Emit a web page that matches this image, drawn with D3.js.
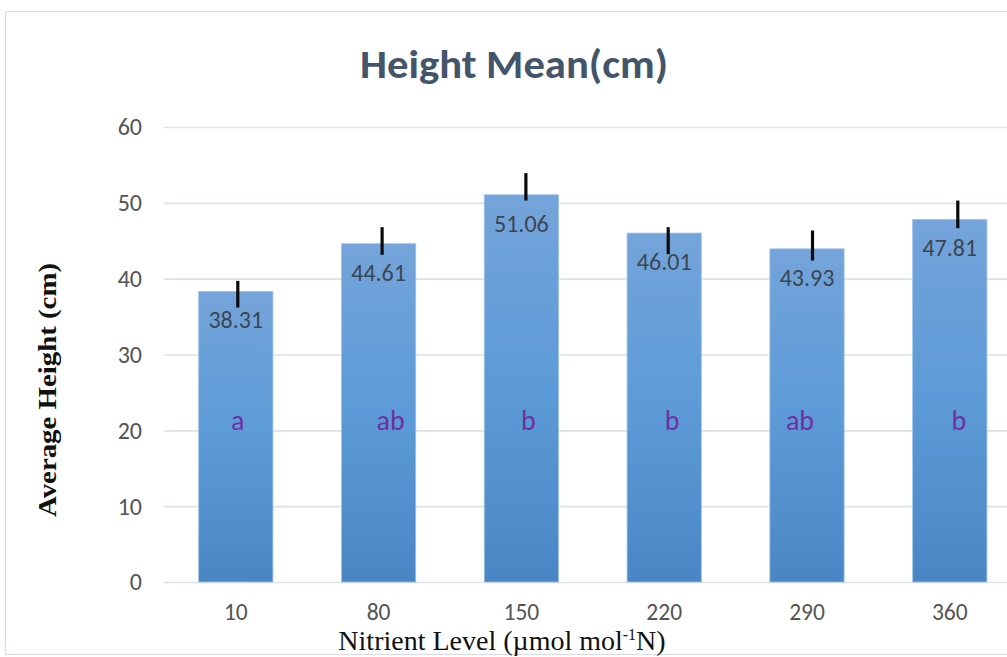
<!DOCTYPE html>
<html>
<head>
<meta charset="utf-8">
<script src="https://cdn.jsdelivr.net/npm/d3@7/dist/d3.min.js"></script>
<style>
  html, body { margin: 0; padding: 0; background: #fff; }
  svg { display: block; }
</style>
</head>
<body>
<svg id="chart" width="1007" height="657"></svg>
<script>
// ---- data ----
const categories = ["10", "80", "150", "220", "290", "360"];
const means = [38.31, 44.61, 51.06, 46.01, 43.93, 47.81];
const errHigh = [39.71, 46.79, 53.92, 46.79, 46.35, 50.30];
const errLow = [36.19, 43.14, 50.30, 43.23, 42.39, 46.66];
const letters = ["a", "ab", "b", "b", "ab", "b"];
const yTicks = [0, 10, 20, 30, 40, 50, 60];
const letterLevel = 20;

// ---- layout nudges (hand-placed annotations in the original) ----
const errDx = [2, 3.5, 4.5, 4, 5.5, 8];
const letterDx = [2, 12, 7, 8, -7, 9];

const svg = d3.select("#chart");
const sans = "Carlito, 'Open Sans', 'Noto Sans', sans-serif";
const serif = "'Liberation Serif', 'DejaVu Serif', serif";

svg.append("rect").attr("width", 1007).attr("height", 657).attr("fill", "#fff");
// chart area border
svg.append("rect").attr("x", 5.5).attr("y", 11.5).attr("width", 1100).attr("height", 643)
  .attr("fill", "none").attr("stroke", "#d9dde3").attr("stroke-width", 1.2);

const x = d3.scaleBand().domain(categories).range([164.4, 1021.2])
  .paddingInner(0.48).paddingOuter(0.24);
const y = d3.scaleLinear().domain([0, 60]).range([582, 127]);

// gradient for bars
const defs = svg.append("defs");
const grad = defs.append("linearGradient").attr("id", "barGrad")
  .attr("x1", 0).attr("y1", 0).attr("x2", 0).attr("y2", 1);
grad.append("stop").attr("offset", "0%").attr("stop-color", "#74a4da");
grad.append("stop").attr("offset", "50%").attr("stop-color", "#5c9bd7");
grad.append("stop").attr("offset", "100%").attr("stop-color", "#4b86c4");

// gridlines
const gridAxis = d3.axisLeft(y).tickValues(yTicks).tickSize(-(1007 - 164)).tickFormat("");
const g = svg.append("g").attr("transform", "translate(164,0)").call(gridAxis);
g.select(".domain").remove();
g.selectAll(".tick line").attr("stroke", "#dde2e9").attr("stroke-width", 1.6);

// y tick labels
const yAxis = d3.axisLeft(y).tickValues(yTicks).tickSize(0).tickPadding(0);
const ya = svg.append("g").attr("transform", "translate(142,0)").call(yAxis);
ya.select(".domain").remove();
ya.selectAll("text").attr("font-family", sans).attr("font-size", 24)
  .attr("fill", "#545454").attr("dy", "0.33em");

// x tick labels
const xAxis = d3.axisBottom(x).tickSize(0).tickPadding(0);
const xa = svg.append("g").attr("transform", "translate(0,620)").call(xAxis);
xa.select(".domain").remove();
xa.selectAll("text").attr("font-family", sans).attr("font-size", 23.5)
  .attr("fill", "#545454").attr("dy", 0);

// bars
svg.append("g").selectAll("rect").data(means).join("rect")
  .attr("x", (d, i) => x(categories[i]))
  .attr("width", x.bandwidth())
  .attr("y", d => y(d))
  .attr("height", d => y(0) - y(d))
  .attr("fill", "url(#barGrad)")
  .attr("stroke", "#9fc1e8").attr("stroke-width", 0.8);

// value labels
svg.append("g").selectAll("text").data(means).join("text")
  .attr("x", (d, i) => x(categories[i]) + x.bandwidth() / 2)
  .attr("y", d => y(d) + 37)
  .attr("text-anchor", "middle")
  .attr("font-family", sans).attr("font-size", 24)
  .attr("fill", "#3c4652")
  .text(d => d.toFixed(2));

// error bars
svg.append("g").selectAll("line").data(means).join("line")
  .attr("x1", (d, i) => x(categories[i]) + x.bandwidth() / 2 + errDx[i])
  .attr("x2", (d, i) => x(categories[i]) + x.bandwidth() / 2 + errDx[i])
  .attr("y1", (d, i) => y(errHigh[i]))
  .attr("y2", (d, i) => y(errLow[i]))
  .attr("stroke", "#0a0a0a").attr("stroke-width", 3.2);

// significance letters
svg.append("g").selectAll("text").data(letters).join("text")
  .attr("x", (d, i) => x(categories[i]) + x.bandwidth() / 2 + letterDx[i])
  .attr("y", y(letterLevel))
  .attr("text-anchor", "middle")
  .attr("font-family", sans).attr("font-size", 28)
  .attr("fill", "#7030a0")
  .text(d => d);

// title
svg.append("text").attr("x", 514).attr("y", 78).attr("text-anchor", "middle")
  .attr("font-family", sans).attr("font-size", 40).attr("font-weight", "bold")
  .attr("fill", "#44546a")
  .attr("textLength", 308).attr("lengthAdjust", "spacingAndGlyphs")
  .text("Height Mean(cm)");

// y axis title
svg.append("text")
  .attr("transform", "translate(56,390) rotate(-90)")
  .attr("text-anchor", "middle")
  .attr("font-family", serif).attr("font-size", 26).attr("font-weight", "bold")
  .attr("fill", "#111")
  .attr("textLength", 254).attr("lengthAdjust", "spacingAndGlyphs")
  .text("Average Height  (cm)");

// x axis title
const xt = svg.append("text").attr("x", 502).attr("y", 650).attr("text-anchor", "middle")
  .attr("font-family", serif).attr("font-size", 28).attr("fill", "#111");
xt.append("tspan").text("Nitrient Level (µmol mol");
xt.append("tspan").attr("font-size", 16).attr("dy", -10).text("-1");
xt.append("tspan").attr("dy", 10).text("N)");
</script>
</body>
</html>
